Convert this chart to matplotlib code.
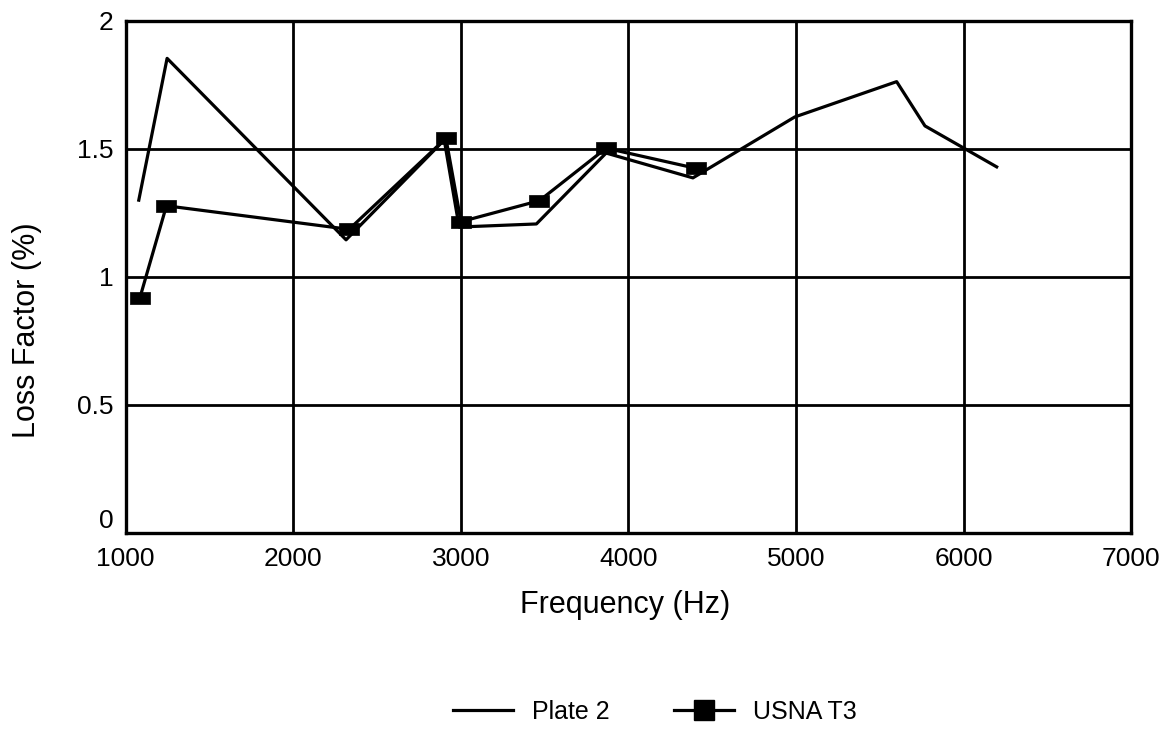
import matplotlib
matplotlib.use("Agg")
import matplotlib.pyplot as plt
from matplotlib.lines import Line2D

plt.rcParams['font.family'] = ['Liberation Sans', 'DejaVu Sans']

plate2_freq = [1078, 1247, 2315, 2901, 2990, 3451, 3867, 4385, 4993, 5601, 5770, 6198]
plate2_loss = [1.30, 1.854, 1.145, 1.535, 1.195, 1.207, 1.484, 1.387, 1.625, 1.763, 1.59, 1.43]

usna_freq = [1084, 1243, 2333, 2911, 3001, 3469, 3867, 4405]
usna_loss = [0.917, 1.278, 1.186, 1.542, 1.216, 1.298, 1.503, 1.424]

xticks = [1000, 2000, 3000, 4000, 5000, 6000, 7000]
yticks = [0, 0.5, 1, 1.5, 2]
ytick_labels = ['0', '0.5', '1', '1.5', '2']
series_names = ['Plate 2', 'USNA T3']

fig = plt.figure(figsize=(11.64, 7.31), dpi=100)
ax = fig.add_axes([0.108, 0.271, 0.8637, 0.7003])

rect_marker = [(-1, -0.64), (1, -0.64), (1, 0.64), (-1, 0.64), (-1, -0.64)]

ax.plot(plate2_freq, plate2_loss, color='black', lw=2.3, zorder=3)
ax.plot(usna_freq, usna_loss, color='black', lw=2.3, marker=rect_marker, ms=14.5,
        markerfacecolor='black', markeredgecolor='black', markeredgewidth=0.5, zorder=4)

ax.set_xlim(1000, 7000)
ax.set_ylim(0, 2)
ax.set_xticks(xticks)
ax.set_yticks(yticks)
ax.set_yticklabels(ytick_labels)
ax.grid(True, color='black', lw=2.0)
ax.set_axisbelow(True)
for s in ax.spines.values():
    s.set_linewidth(2.4)
ax.tick_params(axis='both', length=0, labelsize=19)
ax.tick_params(axis='x', pad=10)
ax.tick_params(axis='y', pad=9)
for lbl in ax.get_yticklabels():
    if lbl.get_text() == '0':
        lbl.set_verticalalignment('bottom')

ax.set_xlabel('Frequency (Hz)', fontsize=22)
ax.xaxis.set_label_coords(0.497, -0.112)
ax.set_ylabel('Loss Factor (%)', fontsize=22)
ax.yaxis.set_label_coords(-0.083, 0.396)

handles = [
    Line2D([], [], color='black', lw=2.3),
    Line2D([], [], color='black', lw=2.3, marker='s', ms=15,
           markerfacecolor='black', markeredgecolor='black'),
]
fig.legend(handles, series_names, loc='center',
           bbox_to_anchor=(655/1164, 1 - 712/731), ncol=2,
           frameon=False, fontsize=18, handlelength=2.4, handletextpad=0.75,
           columnspacing=2.6)

fig.savefig('out.png', dpi=100)
